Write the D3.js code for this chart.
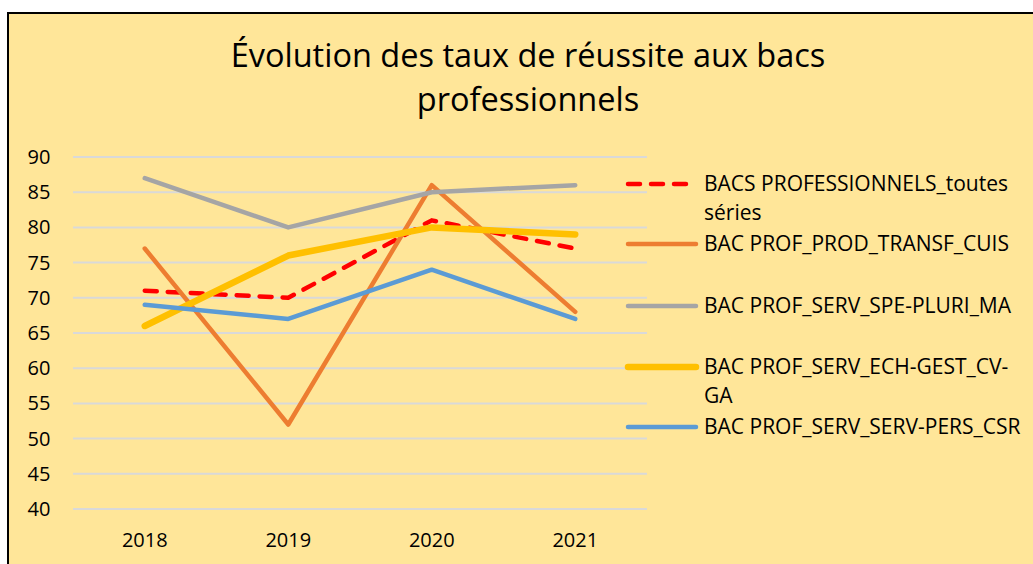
<!DOCTYPE html>
<html>
<head>
<meta charset="utf-8">
<script src="https://cdn.jsdelivr.net/npm/d3@7"></script>
<style>
  body { margin: 0; background: #fff; }
  text { font-family: "Open Sans", Lato, sans-serif; fill: #000; }
</style>
</head>
<body>
<script>
// data
var years = ["2018", "2019", "2020", "2021"];
var seriesNames = [
    "BACS PROFESSIONNELS_toutes séries",
    "BAC PROF_PROD_TRANSF_CUIS",
    "BAC PROF_SERV_SPE-PLURI_MA",
    "BAC PROF_SERV_ECH-GEST_CV-GA",
    "BAC PROF_SERV_SERV-PERS_CSR"
];
var toutesSeries = [71, 70, 81, 77];
var prodTransfCuis = [77, 52, 86, 68];
var spePluriMa = [87, 80, 85, 86];
var echGestCvGa = [66, 76, 80, 79];
var servPersCsr = [69, 67, 74, 67];
var yTicks = [40, 45, 50, 55, 60, 65, 70, 75, 80, 85, 90];
// legend labels wrap like in the original
var legendLines = [
    ["BACS PROFESSIONNELS_toutes", "séries"],
    ["BAC PROF_PROD_TRANSF_CUIS"],
    ["BAC PROF_SERV_SPE-PLURI_MA"],
    ["BAC PROF_SERV_ECH-GEST_CV-", "GA"],
    ["BAC PROF_SERV_SERV-PERS_CSR"]
];

var allValues = [toutesSeries, prodTransfCuis, spePluriMa, echGestCvGa, servPersCsr];
var colors = ["#ff0000", "#ed7d31", "#a5a5a5", "#ffc000", "#5b9bd5"];
var widths = [4.5, 4.5, 4.5, 6.5, 4.5];

var W = 1033, H = 564;

var svg = d3.select("body")
    .append("svg")
    .attr("width", W)
    .attr("height", H);

// chart area with border
svg.append("rect")
    .attr("x", 8)
    .attr("y", 13)
    .attr("width", W + 20)
    .attr("height", H + 20)
    .style("fill", "#ffe699")
    .style("stroke", "#000")
    .style("stroke-width", 2);

// title
var title = svg.append("text")
    .attr("text-anchor", "middle")
    .style("font-size", "32.5px");
title.append("tspan").attr("x", 528).attr("y", 67).text("Évolution des taux de réussite aux bacs");
title.append("tspan").attr("x", 528).attr("y", 111).text("professionnels");

var x = d3.scaleBand()
    .domain(years)
    .range([73, 647])
    .paddingInner(0);

var y = d3.scaleLinear()
    .domain([40, 90])
    .range([509, 157]);

// gridlines
svg.append("g")
    .selectAll("line")
    .data(yTicks)
    .enter()
    .append("line")
    .attr("x1", 73)
    .attr("x2", 647)
    .attr("y1", function(d) { return y(d); })
    .attr("y2", function(d) { return y(d); })
    .style("stroke", "#d9d9d9")
    .style("stroke-width", 2);

// y axis labels
var yAxis = svg.append("g")
    .attr("transform", "translate(52,0)")
    .call(d3.axisLeft(y).tickValues(yTicks).tickSize(0).tickPadding(0));
yAxis.select(".domain").remove();
yAxis.selectAll("text")
    .style("font-size", "20px")
    .style("font-family", "'Open Sans', sans-serif")
    .attr("fill", "#000")
    .attr("x", -13)
    .attr("text-anchor", "middle");

// x axis labels
var xAxis = svg.append("g")
    .attr("transform", "translate(0,533)")
    .call(d3.axisBottom(x).tickSize(0).tickPadding(0));
xAxis.select(".domain").remove();
xAxis.selectAll("text")
    .style("font-size", "20px")
    .style("font-family", "'Open Sans', sans-serif")
    .attr("fill", "#000");

var line = d3.line()
    .x(function(d, i) { return x(years[i]) + x.bandwidth() / 2; })
    .y(function(d) { return y(d); });

svg.append("g")
    .selectAll("path")
    .data(allValues)
    .enter()
    .append("path")
    .attr("d", function(d) { return line(d); })
    .style("fill", "none")
    .style("stroke", function(d, i) { return colors[i]; })
    .style("stroke-width", function(d, i) { return widths[i]; })
    .style("stroke-linecap", "round")
    .style("stroke-linejoin", "round")
    .style("stroke-dasharray", function(d, i) { return i === 0 ? "12,11" : null; });

// legend
var legendY = [184, 244, 306, 367, 427];
var legend = svg.append("g")
    .selectAll("g")
    .data(seriesNames)
    .enter()
    .append("g")
    .attr("transform", function(d, i) { return "translate(0," + legendY[i] + ")"; });

legend.append("line")
    .attr("x1", 628)
    .attr("x2", 696)
    .attr("y1", 0)
    .attr("y2", 0)
    .style("stroke", function(d, i) { return colors[i]; })
    .style("stroke-width", function(d, i) { return widths[i]; })
    .style("stroke-linecap", "round")
    .style("stroke-dasharray", function(d, i) { return i === 0 ? "12,11" : null; });

legend.append("text")
    .style("font-size", "21px")
    .selectAll("tspan")
    .data(function(d, i) { return legendLines[i]; })
    .enter()
    .append("tspan")
    .attr("x", 704)
    .attr("y", function(d, j) { return 7 + j * 29; })
    .text(function(d) { return d; });
</script>
</body>
</html>
